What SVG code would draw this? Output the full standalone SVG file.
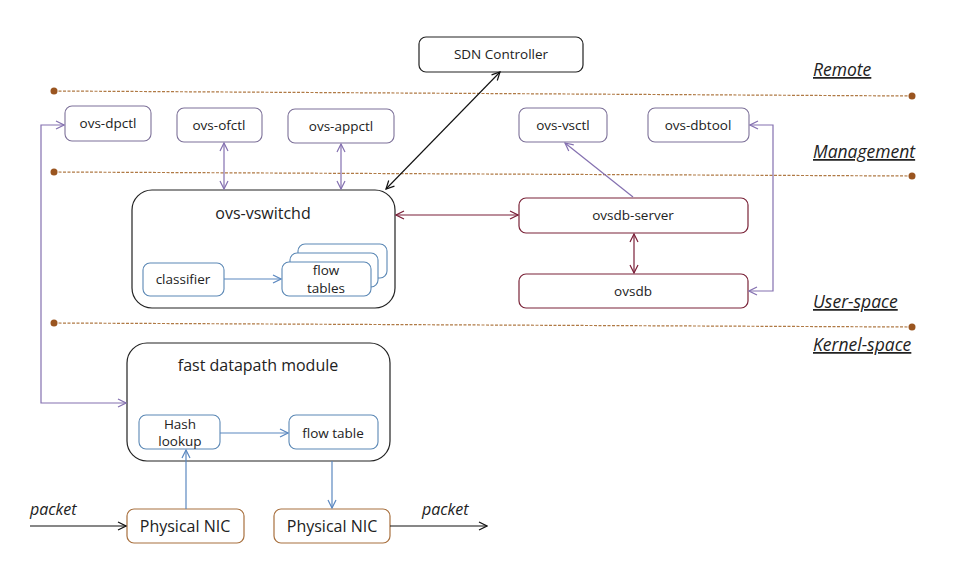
<svg xmlns="http://www.w3.org/2000/svg" width="960" height="568" viewBox="0 0 960 568">
<style>
text{font-family:"Open Sans","Liberation Sans",sans-serif;fill:#222}
.t{font-size:13.5px;text-anchor:middle}
.tt{font-size:16px;text-anchor:middle}
.lbl{font-size:17.5px;font-style:italic;text-decoration:underline}
.pk{font-size:16px;font-style:italic}
.bk{fill:#fff;stroke:#222;stroke-width:1.2}
.pu{fill:#fff;stroke:#7d7199;stroke-width:1.1}
.bl{fill:#fff;stroke:#5b88b5;stroke-width:1.1}
.rd{fill:#fff;stroke:#7a2338;stroke-width:1.2}
.br{fill:#fff;stroke:#a8703e;stroke-width:1.2}
.dl{stroke:#b07a45;stroke-width:1.2;stroke-dasharray:3 1.5;fill:none}
.dot{fill:#9a5520}
.cp{stroke:#8470b0;stroke-width:1.2;fill:none}
.cb{stroke:#5b88c0;stroke-width:1.2;fill:none}
.cr{stroke:#7a1f38;stroke-width:1.2;fill:none}
.ck{stroke:#111;stroke-width:1.1;fill:none}
</style>
<defs>
<marker id="ap" viewBox="0 0 10 10" refX="9" refY="5" markerWidth="10" markerHeight="10" markerUnits="userSpaceOnUse" orient="auto-start-reverse"><path d="M1 1L9 5L1 9" fill="none" stroke="#8470b0" stroke-width="1.2"/></marker>
<marker id="ab" viewBox="0 0 10 10" refX="9" refY="5" markerWidth="10" markerHeight="10" markerUnits="userSpaceOnUse" orient="auto-start-reverse"><path d="M1 1L9 5L1 9" fill="none" stroke="#5b88c0" stroke-width="1.2"/></marker>
<marker id="ar" viewBox="0 0 10 10" refX="9" refY="5" markerWidth="10" markerHeight="10" markerUnits="userSpaceOnUse" orient="auto-start-reverse"><path d="M1 1L9 5L1 9" fill="none" stroke="#7a1f38" stroke-width="1.2"/></marker>
<marker id="ak" viewBox="0 0 10 10" refX="9" refY="5" markerWidth="10" markerHeight="10" markerUnits="userSpaceOnUse" orient="auto-start-reverse"><path d="M1 1L9 5L1 9" fill="none" stroke="#111" stroke-width="1.2"/></marker>
</defs>
<rect width="960" height="568" fill="#fff"/>

<g id="layers">
<line class="dl" x1="54" y1="91" x2="912" y2="96"/>
<circle class="dot" cx="54" cy="91" r="3.5"/><circle class="dot" cx="912" cy="96" r="3.5"/>
<line class="dl" x1="54" y1="172" x2="912" y2="176"/>
<circle class="dot" cx="54" cy="172" r="3.5"/><circle class="dot" cx="912" cy="176" r="3.5"/>
<line class="dl" x1="54" y1="323" x2="912" y2="327"/>
<circle class="dot" cx="54" cy="323" r="3.5"/><circle class="dot" cx="912" cy="327" r="3.5"/>
<text class="lbl" x="813" y="76">Remote</text>
<text class="lbl" x="813" y="158">Management</text>
<text class="lbl" x="813" y="308">User-space</text>
<text class="lbl" x="813" y="351">Kernel-space</text>
</g>

<g id="sdn-controller"><rect class="bk" x="419" y="37" width="164" height="35" rx="7"/><text class="t" x="501" y="59">SDN Controller</text></g>
<g id="ovs-dpctl"><rect class="pu" x="65" y="106" width="86" height="35" rx="7"/><text class="t" x="108" y="128">ovs-dpctl</text></g>
<g id="ovs-ofctl"><rect class="pu" x="177" y="108" width="85" height="34" rx="7"/><text class="t" x="219" y="130">ovs-ofctl</text></g>
<g id="ovs-appctl"><rect class="pu" x="288" y="109" width="106" height="34" rx="7"/><text class="t" x="341" y="131">ovs-appctl</text></g>
<g id="ovs-vsctl"><rect class="pu" x="519" y="108" width="88" height="34" rx="7"/><text class="t" x="563" y="130">ovs-vsctl</text></g>
<g id="ovs-dbtool"><rect class="pu" x="648" y="108" width="101" height="34" rx="7"/><text class="t" x="698" y="130">ovs-dbtool</text></g>

<g id="ovs-vswitchd">
<rect class="bk" x="132" y="190" width="263" height="118" rx="20"/>
<text class="tt" x="263" y="219">ovs-vswitchd</text>
</g>
<g id="classifier"><rect class="bl" x="143" y="263" width="81" height="33" rx="7"/><text class="t" x="183" y="284">classifier</text></g>
<g id="flow-tables">
<rect class="bl" x="298" y="244" width="89" height="34" rx="7"/>
<rect class="bl" x="290" y="253" width="88" height="34" rx="7"/>
<rect class="bl" x="282" y="262" width="89" height="34" rx="7"/>
<text class="t" x="326" y="275">flow</text><text class="t" x="326" y="293">tables</text>
</g>
<g id="ovsdb-server"><rect class="rd" x="519" y="198" width="229" height="35" rx="7"/><text class="t" x="633" y="220">ovsdb-server</text></g>
<g id="ovsdb"><rect class="rd" x="519" y="274" width="229" height="34" rx="7"/><text class="t" x="633" y="296">ovsdb</text></g>

<g id="fast-datapath-module">
<rect class="bk" x="127" y="343" width="263" height="118" rx="20"/>
<text class="tt" x="258" y="371">fast datapath module</text>
</g>
<g id="hash-lookup"><rect class="bl" x="139" y="415" width="81" height="34" rx="7"/><text class="t" x="180" y="429">Hash</text><text class="t" x="180" y="446">lookup</text></g>
<g id="flow-table"><rect class="bl" x="289" y="415" width="89" height="34" rx="7"/><text class="t" x="333" y="438">flow table</text></g>
<g id="nic-in"><rect class="br" x="127" y="509" width="117" height="34" rx="7"/><text class="tt" x="185" y="532">Physical NIC</text></g>
<g id="nic-out"><rect class="br" x="274" y="509" width="116" height="34" rx="7"/><text class="tt" x="332" y="532">Physical NIC</text></g>

<g id="connectors">
<polyline class="cp" points="64,125 41,125 41,403 126,403" marker-start="url(#ap)" marker-end="url(#ap)"/>
<line class="cp" x1="224" y1="143" x2="224" y2="189" marker-start="url(#ap)" marker-end="url(#ap)"/>
<line class="cp" x1="341" y1="144" x2="341" y2="189" marker-start="url(#ap)" marker-end="url(#ap)"/>
<line class="ck" x1="500" y1="72" x2="386" y2="189" marker-start="url(#ak)" marker-end="url(#ak)"/>
<line class="cb" x1="224" y1="279" x2="281" y2="279" marker-end="url(#ab)"/>
<line class="cr" x1="396" y1="215" x2="518" y2="215" marker-start="url(#ar)" marker-end="url(#ar)"/>
<line class="cr" x1="634" y1="234" x2="634" y2="273" marker-start="url(#ar)" marker-end="url(#ar)"/>
<line class="cp" x1="565" y1="143" x2="633" y2="197" marker-start="url(#ap)"/>
<polyline class="cp" points="750,125 773,125 773,291 749,291" marker-start="url(#ap)" marker-end="url(#ap)"/>
<line class="cb" x1="220" y1="433" x2="288" y2="433" marker-end="url(#ab)"/>
<line class="cb" x1="186" y1="509" x2="186" y2="450" marker-end="url(#ab)"/>
<line class="cb" x1="332" y1="461" x2="332" y2="508" marker-end="url(#ab)"/>
<line class="ck" x1="30" y1="526" x2="126" y2="526" marker-end="url(#ak)"/>
<line class="ck" x1="390" y1="526" x2="487" y2="526" marker-end="url(#ak)"/>
</g>
<text class="pk" x="30" y="515">packet</text>
<text class="pk" x="422" y="515">packet</text>
</svg>
